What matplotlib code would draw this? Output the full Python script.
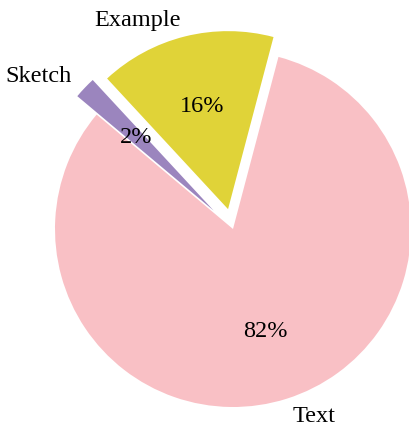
import matplotlib
matplotlib.use('Agg')
import matplotlib.pyplot as plt

labels = ['Text', 'Example', 'Sketch']
sizes = [82, 16, 2]
colors = ['#f9c0c5', '#e0d338', '#9b85be']
explode = (0, 0.115, 0.15)

plt.rcParams['font.family'] = ['Liberation Serif', 'DejaVu Serif']

fig = plt.figure(figsize=(4.09, 4.31), dpi=100)
ax = fig.add_axes([0, 0, 1, 1])
ax.pie(sizes, explode=explode, labels=labels, colors=colors,
       autopct='%1.0f%%', startangle=140, radius=1,
       textprops={'fontsize': 17.5, 'color': 'black'})

# place the pie centre inside the canvas, 178 px per unit radius
ax.set_aspect('auto')
ax.set_xlim(-233 / 178, (409 - 233) / 178)
ax.set_ylim(-201 / 178, 230 / 178)
ax.axis('off')

fig.savefig('out.png', dpi=100)
